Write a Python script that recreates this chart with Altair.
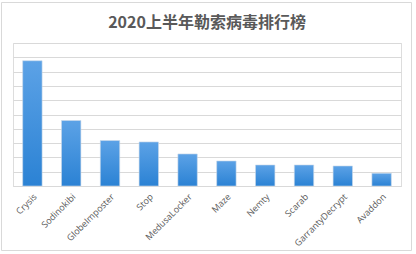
import altair as alt
import pandas as pd

names = ["Crysis", "Sodinokibi", "GlobeImposter", "Stop", "MedusaLocker",
         "Maze", "Nemty", "Scarab", "GarrantyDecrypt", "Avaddon"]
values = [8.76, 4.58, 3.18, 3.08, 2.24, 1.75, 1.47, 1.47, 1.40, 0.89]

df = pd.DataFrame({"name": names, "value": values})

grad = alt.Gradient(
    gradient="linear",
    stops=[alt.GradientStop(color="#2b82d4", offset=0),
           alt.GradientStop(color="#5ca2e6", offset=1)],
    x1=0, x2=0, y1=1, y2=0,
)

bars = alt.Chart(df).mark_bar(color=grad, stroke="#c9d9ea", strokeWidth=0.6).encode(
    x=alt.X("name:N", sort=names, title=None,
            scale=alt.Scale(paddingInner=0.5, paddingOuter=0.25),
            axis=alt.Axis(labelAngle=-45, labelFontSize=9, labelColor="#595959",
                          labelFont="Open Sans", ticks=False, domainColor="#d9d9d9",
                          labelPadding=6)),
    y=alt.Y("value:Q", title=None,
            scale=alt.Scale(domain=[0, 10], nice=False),
            axis=alt.Axis(labels=False, ticks=False, domain=False, grid=True,
                          gridColor="#d9d9d9", values=list(range(0, 11)))),
)

border = alt.Chart(pd.DataFrame({"a": [0]})).mark_rect(
    fillOpacity=0, stroke="#d9d9d9", strokeWidth=1
).encode(
    x=alt.value(-11.5), x2=alt.value(398.5),
    y=alt.value(-40.5), y2=alt.value(207.5),
)

chart = alt.layer(border, bars).properties(
    width=388, height=143,
    autosize=alt.AutoSizeParams(type="none"),
    padding={"left": 13, "top": 43, "right": 15, "bottom": 68},
    title=alt.TitleParams("2020上半年勒索病毒排行榜", font="Noto Sans CJK SC",
                          fontSize=16, fontWeight="bold", color="#595959",
                          anchor="middle", frame="group", offset=-29),
).configure_view(stroke=None).configure(background="white")

chart.save("out.html", embed_options={"renderer": "svg", "actions": False})
